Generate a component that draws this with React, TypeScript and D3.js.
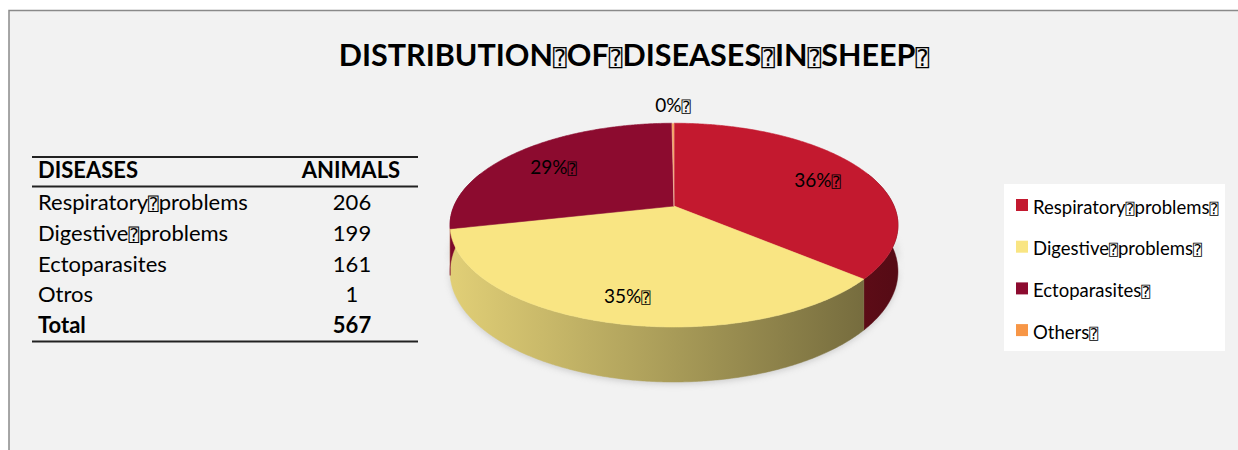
import React from "react";
import * as d3 from "d3";

const TOFU = "\u2370";
const titleWords = ["DISTRIBUTION", "OF", "DISEASES", "IN", "SHEEP"];
const tableHeaders = ["DISEASES", "ANIMALS"];
const tableNames = ["Respiratory problems", "Digestive problems", "Ectoparasites", "Otros"];
const categories = ["Respiratory problems", "Digestive problems", "Ectoparasites", "Others"];
const animals = [206, 199, 161, 1];
const totalLabel = "Total";
const totalValue = 567;
const pieLabels = ["36%", "35%", "29%", "0%"];
const colors = ["#C3192F", "#F9E583", "#8C0B2F", "#F79646"];

const FONT = "Lato, 'Open Sans', sans-serif";

// perspective pie geometry
const cx = 674, cy = 206, B = 220, A = 98.3, P = 0.1875, T = 44.7;
function proj(theta: number, r: number, z: number): [number, number] {
  const u = r * Math.sin(theta);
  const v = -r * Math.cos(theta);
  const d = 1 - P * v;
  return [cx + (B * u) / d, cy + (A * v + T * z) / d];
}
function samples(a0: number, a1: number): number[] {
  const n = Math.max(2, Math.ceil(((a1 - a0) * 180) / Math.PI / 0.5));
  return d3.range(n + 1).map((i) => a0 + ((a1 - a0) * i) / n);
}
const line = d3.line<[number, number]>().x((d) => d[0]).y((d) => d[1]);

function Tofu({ children, size = "0.8em" }: { children: string; size?: string }) {
  const parts = children.split(" ");
  return (
    <>
      {parts.map((p, i) => (
        <React.Fragment key={i}>
          {p}
          {i < parts.length - 1 ? <tspan fontSize={size} fontFamily="'DejaVu Sans Mono', 'DejaVu Sans'" fontWeight="normal">{TOFU}</tspan> : null}
        </React.Fragment>
      ))}
    </>
  );
}

export default function App() {
  const arcs = d3.pie<number>().sort(null).startAngle(0).endAngle(2 * Math.PI)(animals);
  const front0 = Math.PI / 2 - 0.35, front1 = (3 * Math.PI) / 2 + 0.35;
  const xShade = d3.scaleLinear().domain([cx - B, cx + B]).range([0, 1]);

  const rowY = d3.scaleLinear().domain([0, 1]).range([210, 240.8]);

  return (
    <svg width={1238} height={450} style={{ position: "absolute", left: 0, top: 0 }}>
      <defs>
        {colors.map((c, i) => (
          <linearGradient key={i} id={`wall${i}`} gradientUnits="userSpaceOnUse" x1={xShade.invert(0)} x2={xShade.invert(1)} y1={0} y2={0}>
            <stop offset="0" stopColor={d3.color(c)!.darker(0.3).formatHex()} />
            <stop offset="0.5" stopColor={d3.color(c)!.darker(1.1).formatHex()} />
            <stop offset="1" stopColor={d3.color(c)!.darker(2.3).formatHex()} />
          </linearGradient>
        ))}
        <filter id="blur" x="-20%" y="-20%" width="140%" height="140%">
          <feGaussianBlur stdDeviation="3" />
        </filter>
      </defs>
      <rect x={0} y={0} width={1238} height={450} fill="#ffffff" />
      <rect x={9} y={10.5} width={1240} height={450} fill="#f2f2f2" stroke="#8a8a8a" strokeWidth={1.5} />

      <text x={634} y={66} textAnchor="middle" fontFamily={FONT} fontWeight="bold" fontSize={30.5} fill="#000">
        <Tofu size="0.75em">{titleWords.join(" ") + " "}</Tofu>
      </text>

      {/* table */}
      <g fontFamily={FONT} fontSize={22} fill="#000">
        <line x1={32} x2={418} y1={157} y2={157} stroke="#222" strokeWidth={2} />
        <line x1={32} x2={418} y1={186.5} y2={186.5} stroke="#222" strokeWidth={2} />
        <line x1={32} x2={418} y1={341.5} y2={341.5} stroke="#222" strokeWidth={2} />
        <text x={38} y={178} fontWeight="bold">{tableHeaders[0]}</text>
        <text x={351} y={178} fontWeight="bold" textAnchor="middle">{tableHeaders[1]}</text>
        {tableNames.map((n, i) => (
          <g key={n}>
            <text x={38} y={rowY(i)}><Tofu>{n}</Tofu></text>
            <text x={352} y={rowY(i)} textAnchor="middle">{animals[i]}</text>
          </g>
        ))}
        <text x={38} y={rowY(4)} fontWeight="bold">{totalLabel}</text>
        <text x={352} y={rowY(4)} fontWeight="bold" textAnchor="middle">{totalValue}</text>
      </g>

      {/* shadow */}
      <path
        d={line([...samples(Math.PI / 2, (3 * Math.PI) / 2).map((t) => proj(t, 1.0, 1.04)), ...samples(Math.PI / 2, (3 * Math.PI) / 2).reverse().map((t) => proj(t, 1.0, 0.7))])!}
        fill="#a8a8a8" opacity={0.5} filter="url(#blur)"
      />

      {/* walls */}
      {arcs.map((a, i) => {
        const a0 = Math.max(a.startAngle, front0), a1 = Math.min(a.endAngle, front1);
        if (a1 <= a0) return null;
        const s = samples(a0, a1);
        const pts = [...s.map((t) => proj(t, 1, 0)), ...s.slice().reverse().map((t) => proj(t, 1, 1))];
        return <path key={`w${i}`} d={line(pts)! + "Z"} fill={`url(#wall${i})`} stroke={`url(#wall${i})`} strokeWidth={0.5} />;
      })}

      {/* top faces */}
      {arcs.map((a, i) => {
        const s = samples(a.startAngle, a.endAngle);
        const pts = [proj(0, 0, 0), ...s.map((t) => proj(t, 1, 0))];
        return <path key={`t${i}`} d={line(pts)! + "Z"} fill={colors[i]} stroke={i === 3 ? "#f7c7b0" : colors[i]} strokeWidth={0.6} />;
      })}

      {/* labels */}
      <g fontFamily={FONT} fontSize={19} fill="#000" textAnchor="middle">
        {arcs.map((a, i) => {
          const mid = (a.startAngle + a.endAngle) / 2;
          const inside = a.endAngle - a.startAngle > 0.2;
          const [x, y] = inside ? proj(mid, 0.76, 0.25) : proj(mid, 1, 0);
          return (
            <text key={`l${i}`} x={x} y={inside ? y : y - 11}>
              {pieLabels[i]}
              <tspan fontSize="0.8em" fontFamily="'DejaVu Sans Mono', 'DejaVu Sans'">{TOFU}</tspan>
            </text>
          );
        })}
      </g>

      {/* legend */}
      <rect x={1004} y={184} width={221} height={167} fill="#ffffff" />
      <g fontFamily={FONT} fontSize={18.5} fill="#000">
        {categories.map((c, i) => (
          <g key={c} transform={`translate(1016, ${199 + i * 41.7})`}>
            <rect width={12} height={12} fill={colors[i]} />
            <text x={17} y={14.5}><Tofu>{c + " "}</Tofu></text>
          </g>
        ))}
      </g>
    </svg>
  );
}
